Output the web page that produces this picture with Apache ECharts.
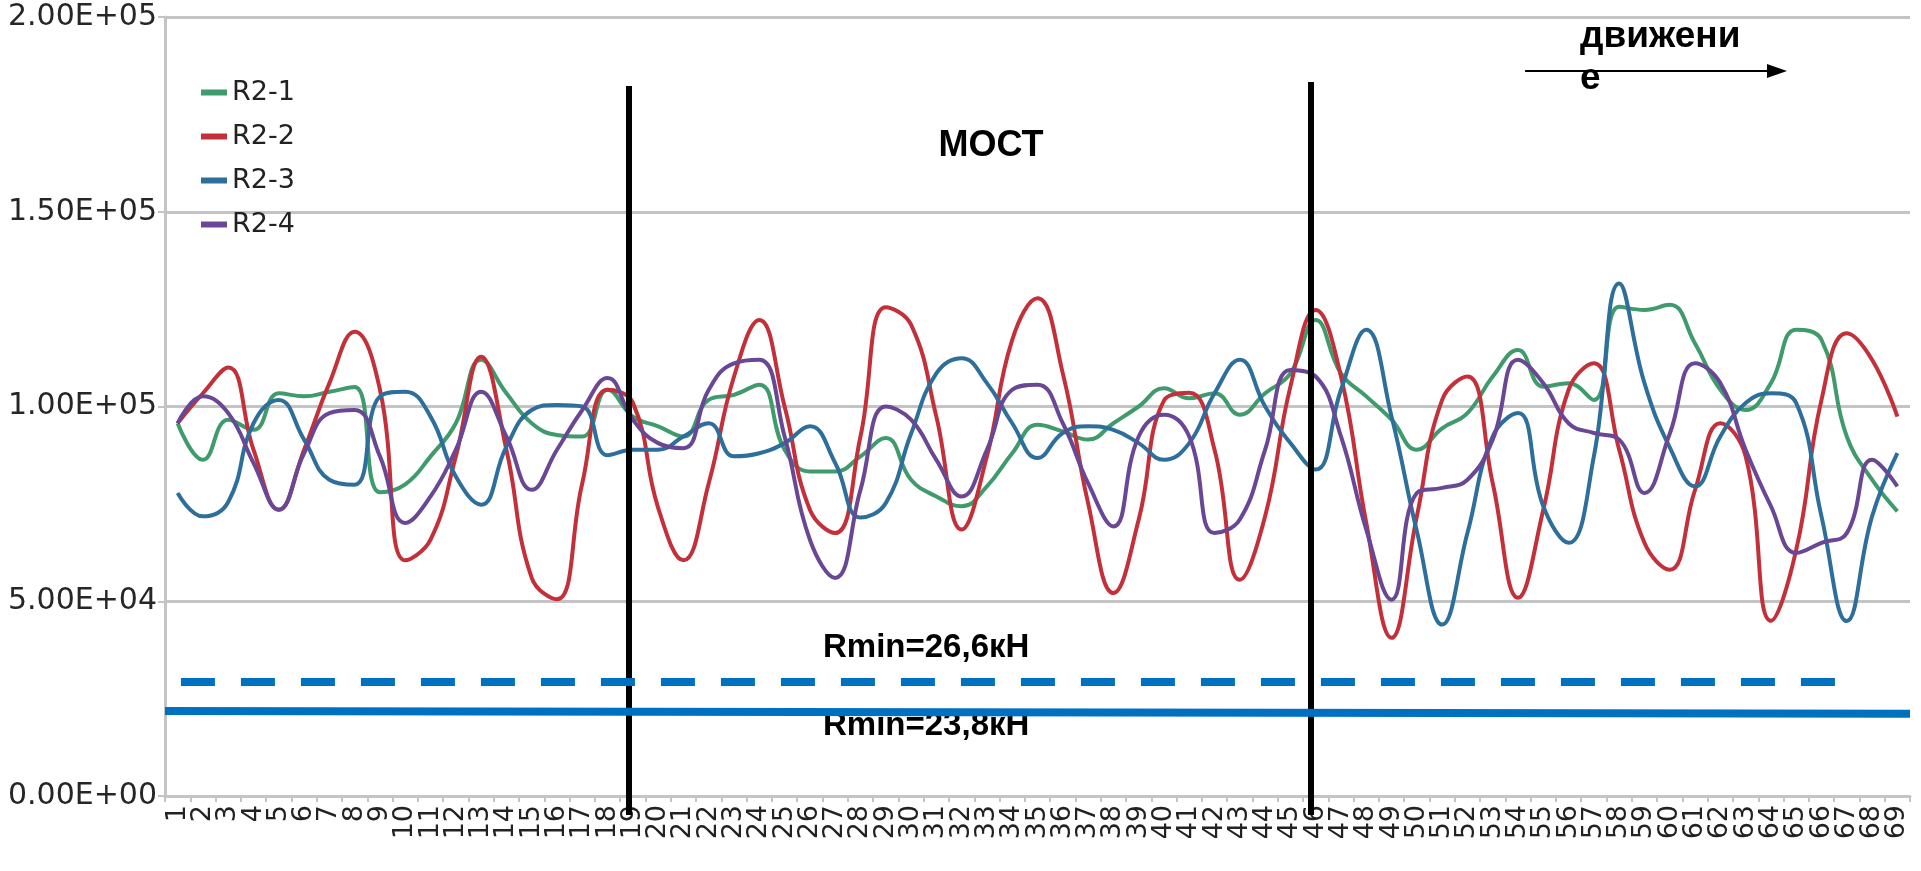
<!DOCTYPE html>
<html>
<head>
<meta charset="utf-8">
<title>R2</title>
<script src="https://cdn.jsdelivr.net/npm/echarts@6/dist/echarts.min.js"></script>
<style>
  html, body { margin: 0; padding: 0; background: #fff; }
  #chart { width: 1921px; height: 871px; }
</style>
</head>
<body>
<div id="chart"></div>
<script>
const categories = [
  "1", "2", "3", "4", "5", "6", "7", "8", "9", "10", "11", "12", "13", "14", "15", "16", "17", "18", "19", "20",
  "21", "22", "23", "24", "25", "26", "27", "28", "29", "30", "31", "32", "33", "34", "35", "36", "37", "38", "39", "40",
  "41", "42", "43", "44", "45", "46", "47", "48", "49", "50", "51", "52", "53", "54", "55", "56", "57", "58", "59", "60",
  "61", "62", "63", "64", "65", "66", "67", "68", "69"
];

const r21 = [
  95700, 86300, 96600, 94000, 103400, 102600, 103800, 105000, 78000, 80000,
  87200, 95700, 112000, 103400, 95700, 92700, 92300, 104300, 97400, 94900,
  92300, 101700, 103000, 105600, 88900, 83300, 83300, 87200, 91900, 81200,
  76900, 74400, 79500, 88000, 95300, 93600, 91500, 95700, 100000, 104700,
  102100, 103400, 97900, 103400, 108500, 122200, 108500, 102600, 96600, 88900,
  94400, 98300, 107700, 114500, 105100, 106000, 101700, 125600, 124800, 126100,
  116200, 104300, 99100, 106000, 119700, 117100, 92300, 81200, 73100
];
const r22 = [
  95700, 103400, 110000, 88900, 73500, 88900, 106000, 119200, 104300, 60500,
  65800, 87200, 112800, 88900, 56000, 50500, 80300, 104300, 101000, 74000,
  60500, 80300, 107700, 122200, 100000, 73500, 67500, 92300, 125500, 121000,
  97400, 68400, 87200, 117100, 127800, 108500, 75200, 52100, 70900, 101500,
  103500, 88900, 55500, 71800, 105100, 124800, 107700, 70100, 40600, 71800,
  101700, 107700, 80300, 50900, 73500, 104300, 111100, 88900, 65000, 58100,
  78600, 95700, 87200, 45000, 63200, 101700, 118800, 112000, 97400
];
const r23 = [
  77800, 71800, 75500, 95700, 101700, 91500, 81200, 79900, 102600, 103800,
  97400, 82000, 74800, 89700, 99100, 100400, 100000, 87500, 88900, 88900,
  92300, 95700, 87200, 88000, 90600, 94900, 85500, 71500, 75200, 93000,
  108500, 112400, 106000, 95700, 86800, 93200, 94900, 94000, 90600, 86300,
  90600, 103400, 112000, 100000, 90600, 83800, 104300, 119700, 97400, 68000,
  44000, 67500, 92300, 98300, 74400, 65000, 87200, 131600, 106000, 89500,
  79500, 92300, 100900, 103400, 100900, 71800, 44900, 71800, 88000
];
const r24 = [
  95700, 102600, 98300, 85500, 73500, 88000, 98300, 99100, 87200, 70100,
  76900, 88900, 103800, 92300, 78600, 88900, 99100, 107300, 96600, 90600,
  89300, 104300, 111100, 112000, 92300, 65800, 56000, 78600, 100000, 96600,
  86300, 76900, 88900, 104300, 105600, 95700, 80300, 69200, 92300, 97900,
  92300, 67500, 71000, 88900, 109400, 107700, 92300, 68400, 50400, 77800,
  79100, 81200, 91500, 112000, 106000, 95700, 93200, 91500, 77800, 93000,
  111100, 106000, 88900, 74400, 62400, 65000, 67500, 86300, 79500
];

const yTickLabels = ["0.00E+00", "5.00E+04", "1.00E+05", "1.50E+05", "2.00E+05"];

// limits, kN -> N
const rminDashed = 29300;
const rminSolid = [21800, 21100];
// bridge edges, in category index units (0 = first category)
const bridgeEdges = [17.85, 44.8];
const bridgeTops = [182300, 183300];

const seriesNames = ["R2-1", "R2-2", "R2-3", "R2-4"];
const seriesColors = ["#3f9a6c", "#c3303a", "#2d6e9b", "#6a4795"];
const seriesData = [r21, r22, r23, r24];

const chart = echarts.init(document.getElementById("chart"));

const lineSeries = seriesNames.map((name, i) => ({
  name,
  type: "line",
  smooth: 0.45,
  symbol: "none",
  data: seriesData[i],
  lineStyle: { width: 4, color: seriesColors[i] },
  itemStyle: { color: seriesColors[i] },
  z: 3,
}));

// hidden overlay, same scale as the plot but reaching below the x axis
const overlayMin = -200000 * 19 / 779;

const blue = "#0070c0";

chart.setOption({
  animation: false,
  textStyle: { fontFamily: "DejaVu Sans" },
  grid: [
    { left: 165, right: 11, top: 17, bottom: 75 },
    { left: 165, right: 11, top: 17, bottom: 56 },
  ],
  legend: {
    data: seriesNames,
    orient: "vertical",
    left: 196,
    top: 74,
    itemGap: 17,
    itemWidth: 26,
    itemHeight: 6,
    icon: "rect",
    textStyle: { fontSize: 27, color: "#222", fontFamily: "DejaVu Sans" },
  },
  xAxis: [
    {
      type: "category",
      data: categories,
      boundaryGap: true,
      axisLine: { lineStyle: { color: "#c4c4c4", width: 3 } },
      axisTick: { show: true, length: 6, lineStyle: { color: "#c4c4c4", width: 2 } },
      axisLabel: { interval: 0, rotate: 90, fontSize: 27, color: "#222", margin: 9 },
      splitLine: { show: false },
    },
    { type: "value", gridIndex: 1, min: -0.5, max: 68.5, show: false },
  ],
  yAxis: [
    {
      type: "value",
      min: 0,
      max: 200000,
      interval: 50000,
      axisLine: { show: true, lineStyle: { color: "#c4c4c4", width: 3 } },
      axisTick: { show: true, length: 7, lineStyle: { color: "#c4c4c4", width: 2 } },
      axisLabel: {
        fontSize: 30,
        color: "#262626",
        margin: 8,
        formatter: (v) => yTickLabels[Math.round(v / 50000)],
      },
      splitLine: { lineStyle: { color: "#c4c4c4", width: 3 } },
    },
    { type: "value", gridIndex: 1, min: overlayMin, max: 200000, show: false },
  ],
  series: [
    ...lineSeries,
    {
      name: "notes",
      type: "line",
      xAxisIndex: 1,
      yAxisIndex: 1,
      data: [],
      silent: true,
      markLine: {
        silent: true,
        symbol: "none",
        label: { show: false },
        emphasis: { disabled: true },
        data: [
          [
            { coord: [bridgeEdges[0], bridgeTops[0]], lineStyle: { color: "#000", width: 6, type: "solid" } },
            { coord: [bridgeEdges[0], overlayMin] },
          ],
          [
            { coord: [bridgeEdges[1], bridgeTops[1]], lineStyle: { color: "#000", width: 6, type: "solid" } },
            { coord: [bridgeEdges[1], overlayMin] },
          ],
          [
            { coord: [0.13, rminDashed], lineStyle: { color: blue, width: 8, type: [34, 26] } },
            { coord: [65.6, rminDashed] },
          ],
          [
            { coord: [-0.5, rminSolid[0]], lineStyle: { color: blue, width: 8, type: "solid" } },
            { coord: [68.5, rminSolid[1]] },
          ],
          [
            { coord: [53.28, 186140], symbol: "none", lineStyle: { color: "#000", width: 2, type: "solid" } },
            { coord: [63.24, 186140], symbol: "triangle", symbolSize: [14, 20] },
          ],
        ],
      },
    },
  ],
  graphic: [
    {
      type: "text",
      x: 991,
      y: 146,
      style: { text: "МОСТ", font: 'bold 36px "Liberation Sans"', fill: "#000", align: "center", verticalAlign: "middle" },
    },
    {
      type: "text",
      x: 823,
      y: 648,
      style: { text: "Rmin=26,6кН", font: 'bold 33px "Liberation Sans"', fill: "#000", align: "left", verticalAlign: "middle" },
    },
    {
      type: "text",
      x: 823,
      y: 726,
      style: { text: "Rmin=23,8кН", font: 'bold 33px "Liberation Sans"', fill: "#000", align: "left", verticalAlign: "middle" },
    },
    {
      type: "text",
      x: 1580,
      y: 37,
      style: { text: "движени", font: 'bold 37px "Liberation Sans"', fill: "#000", align: "left", verticalAlign: "middle" },
    },
    {
      type: "text",
      x: 1580,
      y: 79,
      style: { text: "е", font: 'bold 37px "Liberation Sans"', fill: "#000", align: "left", verticalAlign: "middle" },
    },
  ],
});

window.addEventListener("resize", () => chart.resize());
</script>
</body>
</html>
